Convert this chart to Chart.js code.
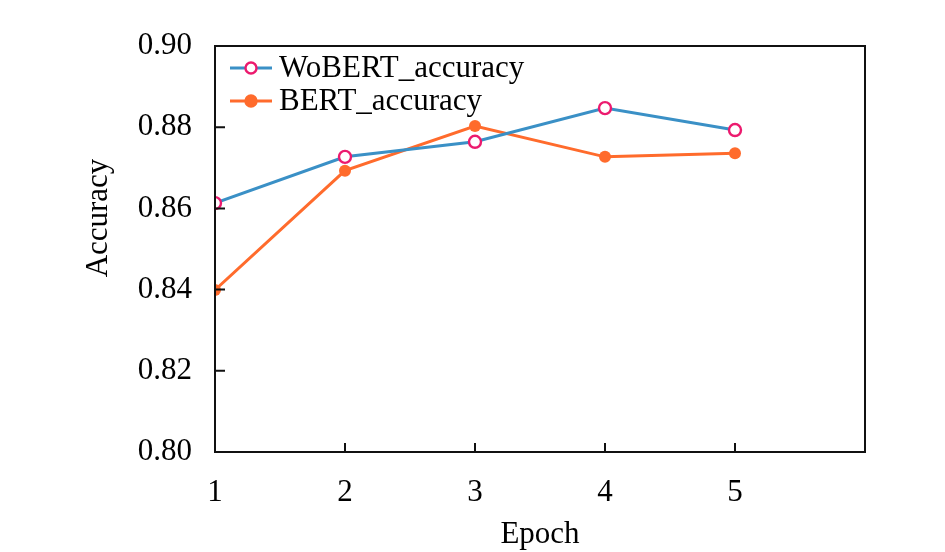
<!DOCTYPE html>
<html>
<head>
<meta charset="utf-8">
<script src="https://cdn.jsdelivr.net/npm/chart.js@4.4.1/dist/chart.umd.min.js"></script>
<style>
  html, body { margin: 0; padding: 0; background: #fff; }
  canvas { display: block; }
</style>
</head>
<body>
<canvas id="accChart" width="945" height="552"></canvas>
<script>
/*global Chart, document*/
'use strict';

// data
var epochs = [1, 2, 3, 4, 5];
var woBertAcc = [0.8613, 0.8727, 0.8764, 0.8847, 0.8793];
var bertAcc = [0.8399, 0.8693, 0.8803, 0.8727, 0.8736];
var yTicks = [0.80, 0.82, 0.84, 0.86, 0.88, 0.90];
var xTickLabels = ['1', '2', '3', '4', '5'];

var blueLine = '#3a90c6';
var pinkRing = '#ec1a6e';
var orange = '#ff6b2c';
var serif = "'Liberation Serif', 'Times New Roman', serif";

function points(ys) {
    return epochs.map(function (e, i) { return {x: e, y: ys[i]}; });
}

// little legend marker: line with a circle on it
function legendMarker(lineColor, ringColor, fill) {
    var c = document.createElement('canvas');
    c.width = 42;
    c.height = 16;
    var g = c.getContext('2d');
    g.strokeStyle = lineColor;
    g.lineWidth = 3;
    g.beginPath();
    g.moveTo(0, 8);
    g.lineTo(42, 8);
    g.stroke();
    g.beginPath();
    g.arc(21, 8, 5.5, 0, Math.PI * 2);
    g.fillStyle = fill;
    g.fill();
    g.strokeStyle = ringColor;
    g.lineWidth = 2.4;
    g.stroke();
    return c;
}

var markers = [
    legendMarker(blueLine, pinkRing, '#fff'),
    legendMarker(orange, orange, orange)
];

// box around the plot, inward tick marks, legend and y title
var framePlugin = {
    id: 'frame',
    afterDraw: function (chart) {
        var a = chart.chartArea;
        var ctx = chart.ctx;
        var xs = chart.scales.x;
        var ys = chart.scales.y;
        ctx.save();
        ctx.strokeStyle = '#111';
        ctx.lineWidth = 2;
        ctx.strokeRect(a.left, a.top, a.right - a.left, a.bottom - a.top);
        ctx.beginPath();
        yTicks.slice(1, -1).forEach(function (v) {
            var py = ys.getPixelForValue(v);
            ctx.moveTo(a.left, py);
            ctx.lineTo(a.left + 10, py);
        });
        epochs.slice(1).forEach(function (v) {
            var px = xs.getPixelForValue(v);
            ctx.moveTo(px, a.bottom);
            ctx.lineTo(px, a.bottom - 9);
        });
        ctx.stroke();

        // legend, top-left inside the box
        ctx.font = '31px ' + serif;
        ctx.fillStyle = '#000';
        ctx.textAlign = 'left';
        ctx.textBaseline = 'middle';
        chart.data.datasets.forEach(function (ds, i) {
            var cy = a.top + 22 + i * 33;
            ctx.drawImage(markers[i], a.left + 15, cy - 8);
            ctx.fillText(ds.label, a.left + 64, cy + 1);
        });

        // y title, sits a bit above the middle in the original
        ctx.translate(99, 218);
        ctx.rotate(-Math.PI / 2);
        ctx.font = '31px ' + serif;
        ctx.textAlign = 'center';
        ctx.fillText('Accuracy', 0, 0);
        ctx.restore();
    }
};

var ctx = document.getElementById('accChart');
var accChart = new Chart(ctx, {
    type: 'line',
    data: {
        datasets: [
            {
                label: 'WoBERT_accuracy',
                data: points(woBertAcc),
                borderColor: blueLine,
                borderWidth: 3,
                pointRadius: 6,
                pointBorderWidth: 2.4,
                pointBorderColor: pinkRing,
                pointBackgroundColor: '#fff',
                tension: 0,
                fill: false
            },
            {
                label: 'BERT_accuracy',
                data: points(bertAcc),
                borderColor: orange,
                borderWidth: 3,
                pointRadius: 6,
                pointBorderWidth: 0,
                pointBackgroundColor: orange,
                tension: 0,
                fill: false
            }
        ]
    },
    options: {
        responsive: false,
        animation: false,
        devicePixelRatio: 1,
        layout: {
            padding: {left: 0, top: 46, right: 80, bottom: 0}
        },
        plugins: {
            legend: {display: false},
            tooltip: {enabled: false}
        },
        scales: {
            x: {
                type: 'linear',
                min: 1,
                max: 6,
                grid: {display: false, drawTicks: false},
                border: {display: false},
                afterFit: function (scale) { scale.height = 100; },
                ticks: {
                    stepSize: 1,
                    padding: 22,
                    color: '#000',
                    font: {family: serif, size: 31},
                    callback: function (v) {
                        var i = epochs.indexOf(v);
                        return i >= 0 ? xTickLabels[i] : '';
                    }
                },
                title: {
                    display: true,
                    text: 'Epoch',
                    color: '#000',
                    font: {family: serif, size: 31, lineHeight: 1.05},
                    padding: {top: 0, bottom: 1}
                }
            },
            y: {
                min: 0.8,
                max: 0.9,
                grid: {display: false, drawTicks: false},
                border: {display: false},
                afterFit: function (scale) { scale.width = 215; },
                ticks: {
                    stepSize: 0.02,
                    padding: 23,
                    color: '#000',
                    font: {family: serif, size: 31},
                    callback: function (v) { return v.toFixed(2); }
                }
            }
        }
    },
    plugins: [framePlugin]
});
</script>
</body>
</html>
